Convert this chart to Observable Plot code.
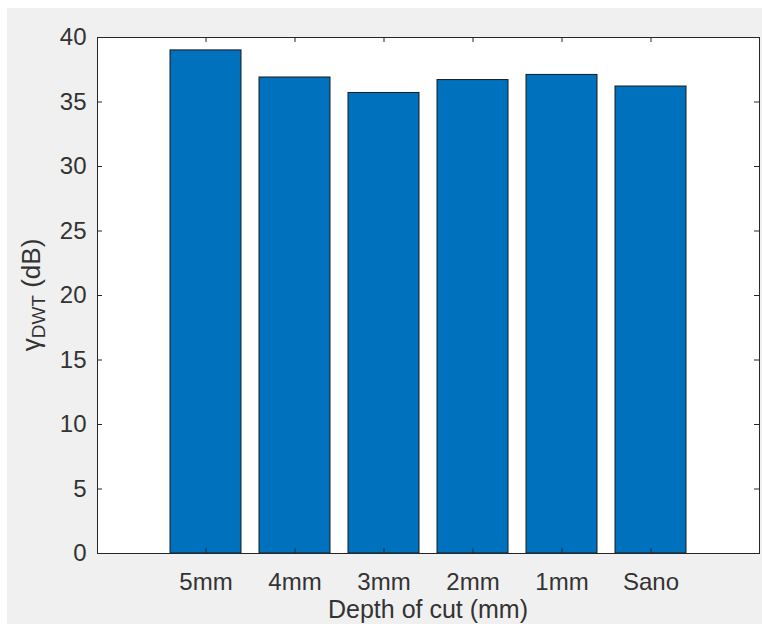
<!DOCTYPE html>
<html>
<head>
<meta charset="utf-8">
<script src="https://cdn.jsdelivr.net/npm/d3@7"></script>
<script src="https://cdn.jsdelivr.net/npm/@observablehq/plot@0.6"></script>
<style>
  html, body { margin: 0; padding: 0; background: #ffffff; overflow: hidden; }
  #fig { position: absolute; left: 7px; top: 8px; width: 755px; height: 616px; background: #f0f0f0; }
  #chart { position: absolute; left: 0; top: 0; width: 762px; height: 624px; }
  #chart svg { display: block; }
</style>
</head>
<body>
<div id="fig"></div>
<div id="chart"></div>
<script>
// ---- data ----
const categories = ["5mm", "4mm", "3mm", "2mm", "1mm", "Sano"];
const values = [39.0, 36.9, 35.7, 36.7, 37.1, 36.2];
const yTicks = [0, 5, 10, 15, 20, 25, 30, 35, 40];
const xLabel = "Depth of cut (mm)";
const yLabelMain = "γ";
const yLabelSub = "DWT";
const yLabelUnit = " (dB)";

const data = categories.map((c, i) => ({ depth: c, gamma: values[i] }));

const font = "'Liberation Sans', Arial, Helvetica, sans-serif";
const ink = "#262626";
const W = 762, H = 624;
const mL = 97, mR = 3, mT = 37, mB = 71;
const frameW = W - mL - mR, frameH = H - mT - mB;
const tick = 5;

const plot = Plot.plot({
  width: W,
  height: H,
  marginLeft: mL,
  marginRight: mR,
  marginTop: mT,
  marginBottom: mB,
  style: { background: "transparent", fontFamily: font, color: ink, overflow: "visible" },
  x: { domain: categories, paddingInner: 0.2, paddingOuter: 0.778, label: null },
  y: { domain: [0, 40], label: null },
  marks: [
    Plot.frame({ fill: "white", stroke: "none" }),
    Plot.barY(data, { x: "depth", y: "gamma", fill: "#0072BD", stroke: "#1a1a1a", strokeWidth: 1 }),
    // inward ticks
    Plot.tickY(yTicks, { y: d => d, stroke: ink, insetRight: frameW - tick }),
    Plot.tickY(yTicks, { y: d => d, stroke: ink, insetLeft: frameW - tick }),
    Plot.tickX(categories, { x: d => d, stroke: ink, insetBottom: frameH - tick }),
    Plot.tickX(categories, { x: d => d, stroke: ink, insetTop: frameH - tick }),
    // tick labels
    Plot.axisY({ anchor: "left", ticks: yTicks, tickSize: 0, tickPadding: 11, fontSize: 24, label: null, fill: "#333" }),
    Plot.axisX({ anchor: "bottom", tickSize: 0, tickPadding: 19, fontSize: 24, label: null, fill: "#333" }),
    Plot.frame({ stroke: ink, strokeWidth: 1 })
  ]
});

document.getElementById("chart").appendChild(plot);

const svg = d3.select(plot);
// x label (kept fully inside the picture)
svg.append("text")
  .attr("x", mL + frameW / 2)
  .attr("y", H - 6)
  .attr("text-anchor", "middle")
  .attr("font-family", font)
  .attr("font-size", 25)
  .attr("fill", "#333")
  .text(xLabel);

// y label with subscript
const yl = svg.append("text")
  .attr("transform", `translate(40, ${mT + frameH / 2}) rotate(-90)`)
  .attr("text-anchor", "middle")
  .attr("font-family", font)
  .attr("font-size", 26)
  .attr("fill", "#333");
yl.append("tspan").text(yLabelMain);
yl.append("tspan").attr("font-size", 19).attr("dy", 5).text(yLabelSub);
yl.append("tspan").attr("dy", -5).text(yLabelUnit);
</script>
</body>
</html>
